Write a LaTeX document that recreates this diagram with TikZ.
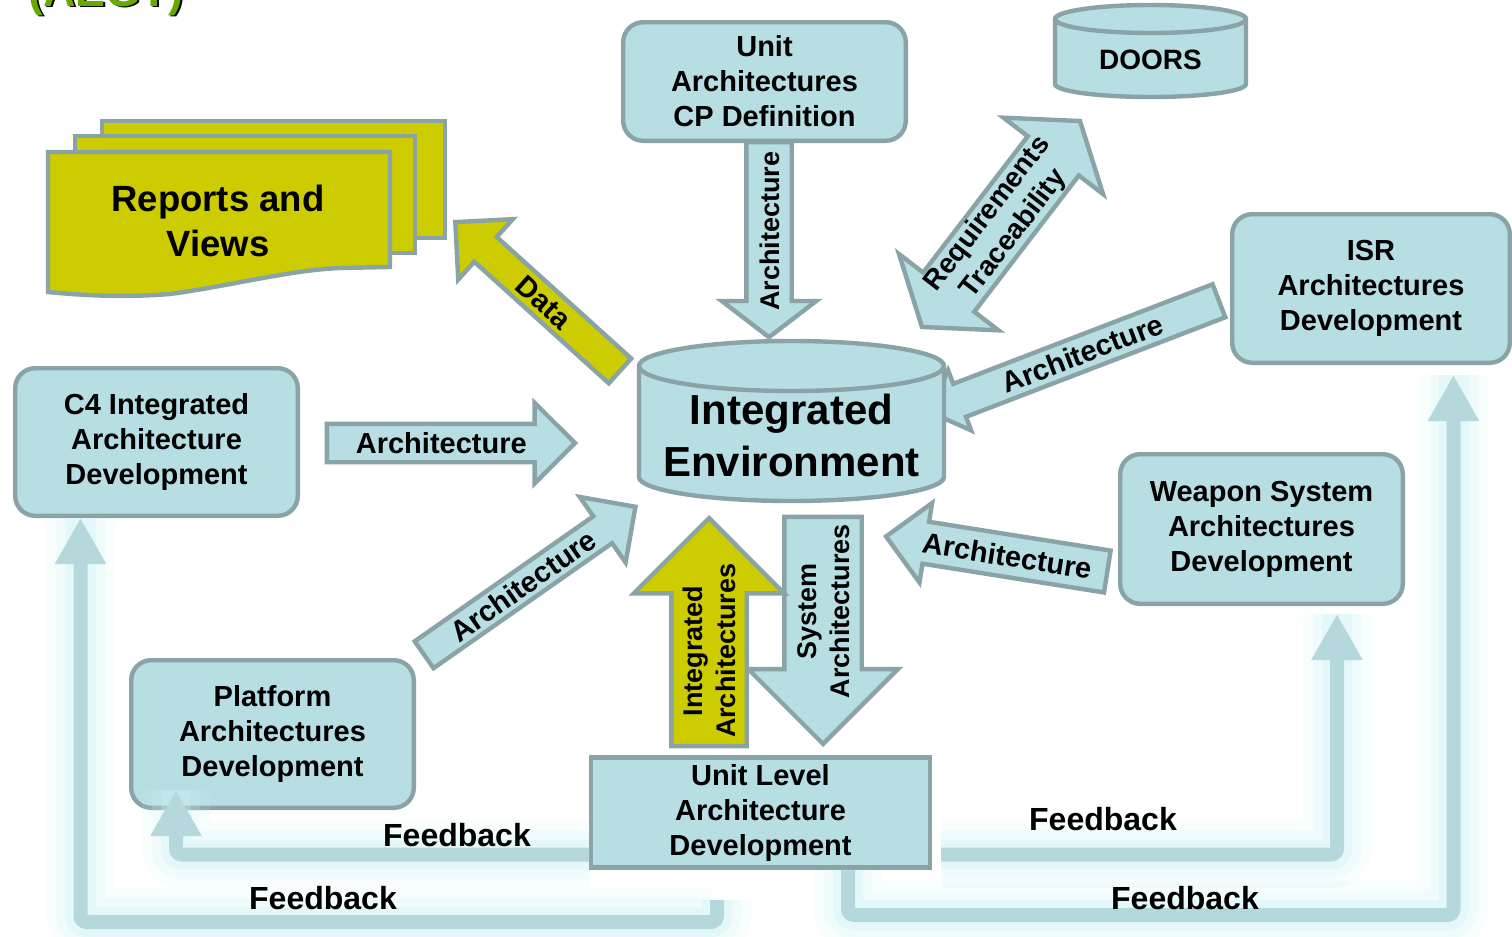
\documentclass[tikz,border=0pt]{standalone}
\usepackage{fontspec}
\setmainfont{Liberation Sans}
\usepackage{xcolor}
\usepackage{tikz}
\usetikzlibrary{arrows.meta, shapes.arrows, positioning}

\definecolor{boxfill}{RGB}{183,222,226}
\definecolor{boxedge}{RGB}{137,163,167}
\definecolor{docyellow}{RGB}{204,204,0}
\definecolor{fbline}{RGB}{180,216,220}
\definecolor{fbglow}{RGB}{205,242,246}
\definecolor{titlegreen}{RGB}{102,170,0}

\begin{document}
\begin{tikzpicture}[x=0.5pt, y=-0.5pt]
        % Definieer stijlen
        \tikzstyle{devbox} = [rectangle, rounded corners=10pt, draw=boxedge, fill=boxfill, line width=2.2pt, minimum width=141.3pt, minimum height=73.8pt, align=center, font=\fontsize{14.5}{17.5}\selectfont\bfseries]
        \tikzstyle{unitbox} = [devbox, sharp corners, minimum width=169.3pt, minimum height=54.3pt]
        \tikzstyle{drum} = [draw=boxedge, fill=boxfill, line width=2.2pt]
        \tikzstyle{sheet} = [draw=boxedge, fill=docyellow, line width=2.2pt]
        \tikzstyle{blockarrow} = [single arrow, draw=boxedge, fill=boxfill, line width=2.2pt, single arrow head indent=0pt, inner xsep=0pt, text height=10.5pt, text depth=0pt, font=\fontsize{14.5}{17.5}\selectfont\bfseries]
        \tikzstyle{tallarrow} = [blockarrow, align=center, inner xsep=-5pt, text height=26.5pt, text depth=0pt, font=\fontsize{13.5}{16.5}\selectfont\bfseries]
        \tikzstyle{feedback} = [draw=fbline, line width=7pt, rounded corners=3pt, -{Triangle[width=24pt, length=23pt]},
            preaction={draw=fbglow, -, line width=34pt, opacity=0.12},
            preaction={draw=fbglow, -, line width=24pt, opacity=0.18},
            preaction={draw=fbglow, -, line width=15pt, opacity=0.3}]
        \tikzstyle{fbtext} = [font=\fontsize{16}{19}\selectfont\bfseries]
        \tikzstyle{titletext} = [anchor=base west, inner sep=0pt, font=\fontsize{22.5}{27}\selectfont\bfseries]

        % Achtergrond
        \path [use as bounding box, fill=white] (0,0) rectangle (1512,937);

        % Titel (afgesneden)
        \node (titleshadow) [titletext, text=black] at (30,8) {(AEGT)};
        \node (title) [titletext, text=titlegreen] at (28,6) {(AEGT)};

        % Rapporten
        \draw [sheet] (102,121) rectangle (445,238);
        \draw [sheet] (75,136) rectangle (415,253);
        \draw [sheet] (48,152) -- (390,152) -- (390,267) -- (340,268) .. controls (290,270) and (230,286) .. (170,294) .. controls (120,298) and (80,295) .. (48,292) -- cycle;
        \node (reports) [align=center, font=\fontsize{18.25}{22.5}\selectfont\bfseries] at (218,221) {Reports and\\Views};

        % Blokpijlen
        \node (cparrow) [blockarrow, anchor=tip, rotate=90, shape border rotate=180, minimum height=97.5pt, inner ysep=5.25pt, single arrow head extend=12.25pt, single arrow tip angle=105, text height=10pt, font=\fontsize{13.5}{16}\selectfont\bfseries] at (769,340) {Architecture};
        \node (dataarrow) [blockarrow, fill=docyellow, anchor=tip, rotate=-42.1, shape border rotate=180, minimum height=111pt, inner ysep=2pt, single arrow head extend=12pt] at (453,220) {Data};
        \node (c4arrow) [blockarrow, anchor=tip, minimum height=124pt, inner ysep=3.25pt, single arrow head extend=10.5pt] at (578,443) {Architecture};
        \node (platarrow) [blockarrow, anchor=tip, rotate=35, minimum height=129pt, inner ysep=1.85pt, single arrow head extend=11.8pt] at (638,505) {Architecture};
        \node (israrrow) [blockarrow, anchor=tail, rotate=21, shape border rotate=180, minimum height=155pt, inner ysep=2.5pt, single arrow head extend=7.25pt] at (1221,300) {Architecture};
        \node (weaparrow) [blockarrow, anchor=tip, rotate=-9, shape border rotate=180, minimum height=112pt, inner ysep=4.25pt, single arrow head extend=9.5pt] at (883,536) {Architecture};
        \node (sysarrow) [tallarrow, anchor=tip, rotate=90, shape border rotate=180, minimum height=113.5pt, inner ysep=5pt, single arrow head extend=18pt] at (823,747) {System\\Architectures};
        \node (intarrow) [tallarrow, fill=docyellow, anchor=tip, rotate=90, minimum height=114pt, inner ysep=4.5pt, single arrow head extend=18.75pt] at (709,515) {Integrated\\Architectures};
        \node (reqarrow) [blockarrow, double arrow, rotate=52.5, minimum height=129.8pt, inner xsep=-4pt, inner ysep=0.2pt, double arrow head extend=15.25pt, double arrow tip angle=110, align=center, text height=26.7pt, text depth=2.9pt, font=\fontsize{14}{16.5}\selectfont\bfseries] at (1001,224) {Requirements\\Traceability};

        % Knopen plaatsen
        \node (ucp) [devbox, minimum height=59.3pt] at (764.5,81.5) {Unit\\Architectures\\CP Definition};
        \node (c4) [devbox] at (156.5,442) {C4 Integrated\\Architecture\\Development};
        \node (plat) [devbox] at (272.5,734) {Platform\\Architectures\\Development};
        \node (isr) [devbox, minimum width=138.8pt, minimum height=74.3pt] at (1371,288.5) {ISR\\Architectures\\Development};
        \node (weap) [devbox, minimum height=74.8pt] at (1261.5,529) {Weapon System\\Architectures\\Development};
        \node (ulevel) [unitbox] at (760.5,812.5) {Unit Level\\Architecture\\Development};

        % Databases
        \draw [drum] (639,366) -- (639,477) arc [start angle=180, end angle=0, x radius=152.5, y radius=24] -- (944,366) arc [start angle=0, end angle=-180, x radius=152.5, y radius=25] -- cycle;
        \draw [drum, fill=none] (639,366) arc [start angle=180, end angle=0, x radius=152.5, y radius=25];
        \node (ie) [align=center, font=\fontsize{21}{26}\selectfont\bfseries] at (791.5,435) {Integrated\\Environment};
        \draw [drum] (1055,19) -- (1055,84) arc [start angle=180, end angle=0, x radius=95.5, y radius=13] -- (1246,19) arc [start angle=0, end angle=-180, x radius=95.5, y radius=14] -- cycle;
        \draw [drum, fill=none] (1055,19) arc [start angle=180, end angle=0, x radius=95.5, y radius=14];
        \node (doors) [font=\fontsize{14}{17}\selectfont\bfseries] at (1150.5,60) {DOORS};

        % Terugkoppeling
        \coordinate (f1tip) at (176,790);
        \coordinate (f2start) at (717,900);
        \coordinate (f2turn) at (80.5,922);
        \coordinate (f3tip) at (1337,614);
        \coordinate (f4turn) at (1453.5,915);
        \coordinate (f4tip) at (1453.5,375);
        \draw [feedback] ([yshift=-21pt]ulevel.west) -| (f1tip);
        \draw [feedback] (f2start) |- (f2turn) -- (f2turn |- c4.south);
        \draw [feedback] ([xshift=4.5pt, yshift=-21pt]ulevel.east) -| (f3tip);
        \draw [feedback] ([xshift=43.75pt]ulevel.south) |- (f4turn) -- (f4tip);
        \node (fb1) [fbtext] at (457,835) {Feedback};
        \node (fb2) [fbtext] at (323,898) {Feedback};
        \node (fb3) [fbtext] at (1103,819) {Feedback};
        \node (fb4) [fbtext] at (1185,898) {Feedback};

    \end{tikzpicture}
\end{document}
